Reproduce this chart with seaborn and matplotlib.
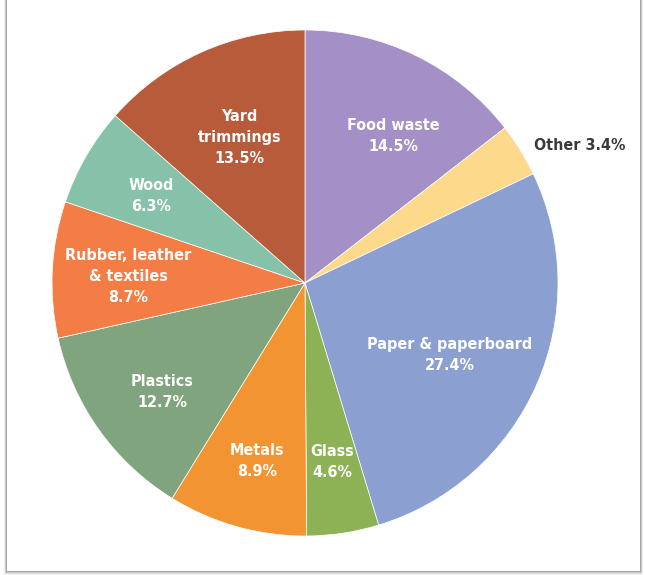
import matplotlib
matplotlib.use("Agg")
import matplotlib.pyplot as plt
import seaborn as sns
import numpy as np
from matplotlib.patches import Rectangle

sns.set_theme(style="white")
plt.rcParams["font.family"] = ["DejaVu Sans"]
plt.rcParams["font.stretch"] = "condensed"

# Municipal solid waste composition, clockwise from 12 o'clock
categories = ["Food waste", "Other", "Paper & paperboard", "Glass", "Metals",
              "Plastics", "Rubber, leather\n& textiles", "Wood", "Yard\ntrimmings"]
shares = [14.5, 3.4, 27.4, 4.6, 8.9, 12.7, 8.7, 6.3, 13.5]
colors = ["#A48FC6", "#FDD98B", "#8B9FD1", "#8DB255", "#F39433",
          "#7FA47E", "#F47D45", "#86C1AA", "#B85B3B"]
# label placement: radius as a fraction of the pie radius, and a small
# angular nudge (degrees) away from each wedge's mid-angle
label_radius = [0.68, 1.215, 0.64, 0.715, 0.73, 0.71, 0.70, 0.70, 0.63]
label_nudge = [-4.9, -5.1, -2.6, 0.0, 0.5, 1.8, 1.0, 0.5, 0.0]

W, H = 645, 575
fig = plt.figure(figsize=(W / 100, H / 100), dpi=100)
fig.patch.set_facecolor("white")

# framed panel with a soft drop shadow
for i, a in enumerate([0.05, 0.08, 0.11, 0.15]):
    off = 4 - i
    fig.add_artist(Rectangle(((6 - off * 0.5) / W, (4 - off) / H),
                             (634 + off * 1.3) / W, 600 / H,
                             transform=fig.transFigure, facecolor="black",
                             edgecolor="none", alpha=a, zorder=0))
fig.add_artist(Rectangle((7 / W, 4 / H), 633 / W, 600 / H,
                         transform=fig.transFigure, facecolor="white",
                         edgecolor="none", zorder=1))

cx, cy, r = 305, 283, 253
ax = fig.add_axes([(cx - r) / W, (H - cy - r) / H, 2 * r / W, 2 * r / H])
ax.set_zorder(2)
ax.patch.set_alpha(0)

wedges, _ = ax.pie(shares, colors=colors, startangle=90, counterclock=False,
                   radius=1, wedgeprops=dict(edgecolor="white", linewidth=0.5))
ax.set_xlim(-1, 1)
ax.set_ylim(-1, 1)
ax.set_aspect("equal")
ax.axis("off")

for w, name, val, rr, dn in zip(wedges, categories, shares, label_radius, label_nudge):
    mid = np.deg2rad((w.theta1 + w.theta2) / 2 + dn)
    x, y = rr * np.cos(mid), rr * np.sin(mid)
    if name == "Other":
        ax.text(x, y, f"{name} {val}%", ha="center", va="center",
                fontsize=11.5, fontweight="bold", fontstretch="condensed",
                color="#3a3a3a", linespacing=1.5)
    else:
        ax.text(x, y, f"{name}\n{val}%", ha="center", va="center",
                fontsize=11.5, fontweight="bold", fontstretch="condensed",
                color="white", linespacing=1.5)

fig.savefig("out.png", dpi=100)
